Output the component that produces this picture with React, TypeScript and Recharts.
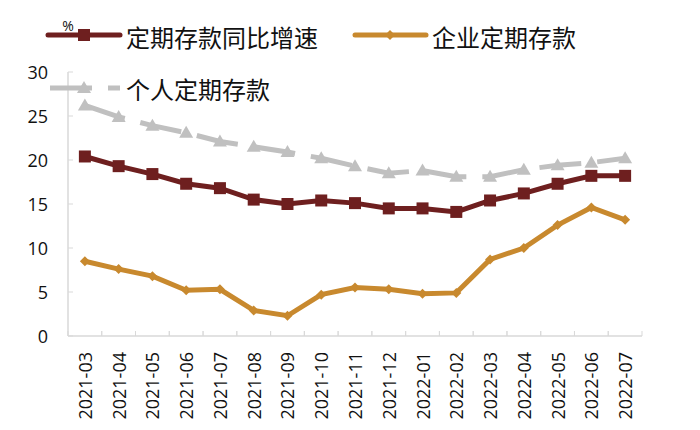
import { LineChart, Line, XAxis, YAxis } from 'recharts';

const months = [
  '2021-03', '2021-04', '2021-05', '2021-06', '2021-07', '2021-08', '2021-09', '2021-10', '2021-11',
  '2021-12', '2022-01', '2022-02', '2022-03', '2022-04', '2022-05', '2022-06', '2022-07',
];
const totalGrowth = [20.4, 19.3, 18.4, 17.3, 16.8, 15.5, 15.0, 15.4, 15.1, 14.5, 14.5, 14.1, 15.4, 16.2, 17.3, 18.2, 18.2];
const corporate = [8.5, 7.6, 6.8, 5.2, 5.3, 2.9, 2.3, 4.7, 5.5, 5.3, 4.8, 4.9, 8.7, 10.0, 12.6, 14.6, 13.2];
const personal = [26.2, 24.9, 23.9, 23.1, 22.1, 21.5, 20.9, 20.2, 19.3, 18.5, 18.8, 18.1, 18.1, 18.9, 19.4, 19.7, 20.2];
const yTicks = [0, 5, 10, 15, 20, 25, 30];

const names = { total: '定期存款同比增速', corp: '企业定期存款', pers: '个人定期存款' };

const RED = '#6e1f1f';
const GOLD = '#c8892e';
const GRAY = '#c0c0c0';
const AXIS = '#d9d9d9';
const NUM_FONT = '"Open Sans", "Liberation Sans", sans-serif';
const CJK_FONT = '"Noto Sans CJK SC", sans-serif';

const data = months.map((m, i) => ({
  month: m,
  total: totalGrowth[i],
  corp: corporate[i],
  pers: personal[i],
}));

const HALF_BAND = 574 / 17 / 2;

const SquareDot = (p: any) => (
  <rect key={p.index} x={p.cx - 6} y={p.cy - 6} width={12} height={12} fill={RED} />
);
const DiamondDot = (p: any) => (
  <polygon
    key={p.index}
    points={`${p.cx},${p.cy - 5} ${p.cx + 5},${p.cy} ${p.cx},${p.cy + 5} ${p.cx - 5},${p.cy}`}
    fill={GOLD}
  />
);
const TriDot = (p: any) => (
  <polygon
    key={p.index}
    points={`${p.cx},${p.cy - 7} ${p.cx + 7},${p.cy + 5} ${p.cx - 7},${p.cy + 5}`}
    fill={GRAY}
  />
);

const XTick = (p: any) => (
  <g>
    <line x1={p.x - HALF_BAND} y1={p.y} x2={p.x - HALF_BAND} y2={p.y - 5} stroke={AXIS} />
    <line x1={p.x + HALF_BAND} y1={p.y} x2={p.x + HALF_BAND} y2={p.y - 5} stroke={AXIS} />
    <text
      x={p.x}
      y={p.y + 16}
      transform={`rotate(-90 ${p.x} ${p.y + 16})`}
      textAnchor="end"
      dominantBaseline="central"
      fontSize={18}
      fontFamily={NUM_FONT}
      fill="#111"
    >
      {p.payload.value}
    </text>
  </g>
);

const YTick = (p: any) => (
  <g>
    <line x1={p.x} y1={p.y} x2={p.x + 5} y2={p.y} stroke={AXIS} />
    <text
      x={p.x - 20}
      y={p.y}
      textAnchor="end"
      dominantBaseline="central"
      fontSize={18}
      fontFamily={NUM_FONT}
      fill="#111"
    >
      {p.payload.value}
    </text>
  </g>
);

function LegendOverlay() {
  const txt = { fontSize: 24, fontFamily: CJK_FONT, fill: '#111' };
  return (
    <svg width={700} height={110} style={{ position: 'absolute', left: 0, top: 0 }}>
      <text x={68} y={25} textAnchor="middle" dominantBaseline="central" fontSize={14} fontFamily={NUM_FONT} fill="#111">
        %
      </text>
      <line x1={48} y1={35} x2={120} y2={35} stroke={RED} strokeWidth={5} strokeLinecap="round" />
      <rect x={78} y={29} width={12} height={12} fill={RED} />
      <text x={126} y={36} dominantBaseline="central" {...txt}>{names.total}</text>

      <line x1={355} y1={35} x2={426} y2={35} stroke={GOLD} strokeWidth={5} strokeLinecap="round" />
      <polygon points="390,30 395,35 390,40 385,35" fill={GOLD} />
      <text x={432} y={36} dominantBaseline="central" {...txt}>{names.corp}</text>

      <line x1={50} y1={88} x2={120} y2={88} stroke={GRAY} strokeWidth={5} strokeDasharray="42 16" />
      <polygon points="84,81 91,93 77,93" fill={GRAY} />
      <text x={126} y={88} dominantBaseline="central" {...txt}>{names.pers}</text>
    </svg>
  );
}

export default function App() {
  return (
    <div style={{ position: 'absolute', left: 0, top: 0, width: 700, height: 430, background: '#fff' }}>
      <LineChart width={700} height={430} data={data} margin={{ top: 72, right: 58, bottom: 0, left: 0 }}>
        <XAxis
          dataKey="month"
          interval={0}
          height={94}
          padding={{ left: HALF_BAND, right: HALF_BAND }}
          tickLine={false}
          tickSize={0}
          tickMargin={0}
          axisLine={{ stroke: AXIS, strokeWidth: 1.5 }}
          tick={<XTick />}
        />
        <YAxis
          width={68}
          domain={[0, 30]}
          ticks={yTicks}
          interval={0}
          tickLine={false}
          tickSize={0}
          tickMargin={0}
          axisLine={{ stroke: AXIS, strokeWidth: 1.5 }}
          tick={<YTick />}
        />
        <Line
          dataKey="pers"
          name={names.pers}
          stroke={GRAY}
          strokeWidth={5}
          strokeDasharray="42 16"
          dot={TriDot}
          isAnimationActive={false}
        />
        <Line
          dataKey="total"
          name={names.total}
          stroke={RED}
          strokeWidth={5}
          dot={SquareDot}
          isAnimationActive={false}
        />
        <Line
          dataKey="corp"
          name={names.corp}
          stroke={GOLD}
          strokeWidth={5}
          dot={DiamondDot}
          isAnimationActive={false}
        />
      </LineChart>
      <LegendOverlay />
    </div>
  );
}
